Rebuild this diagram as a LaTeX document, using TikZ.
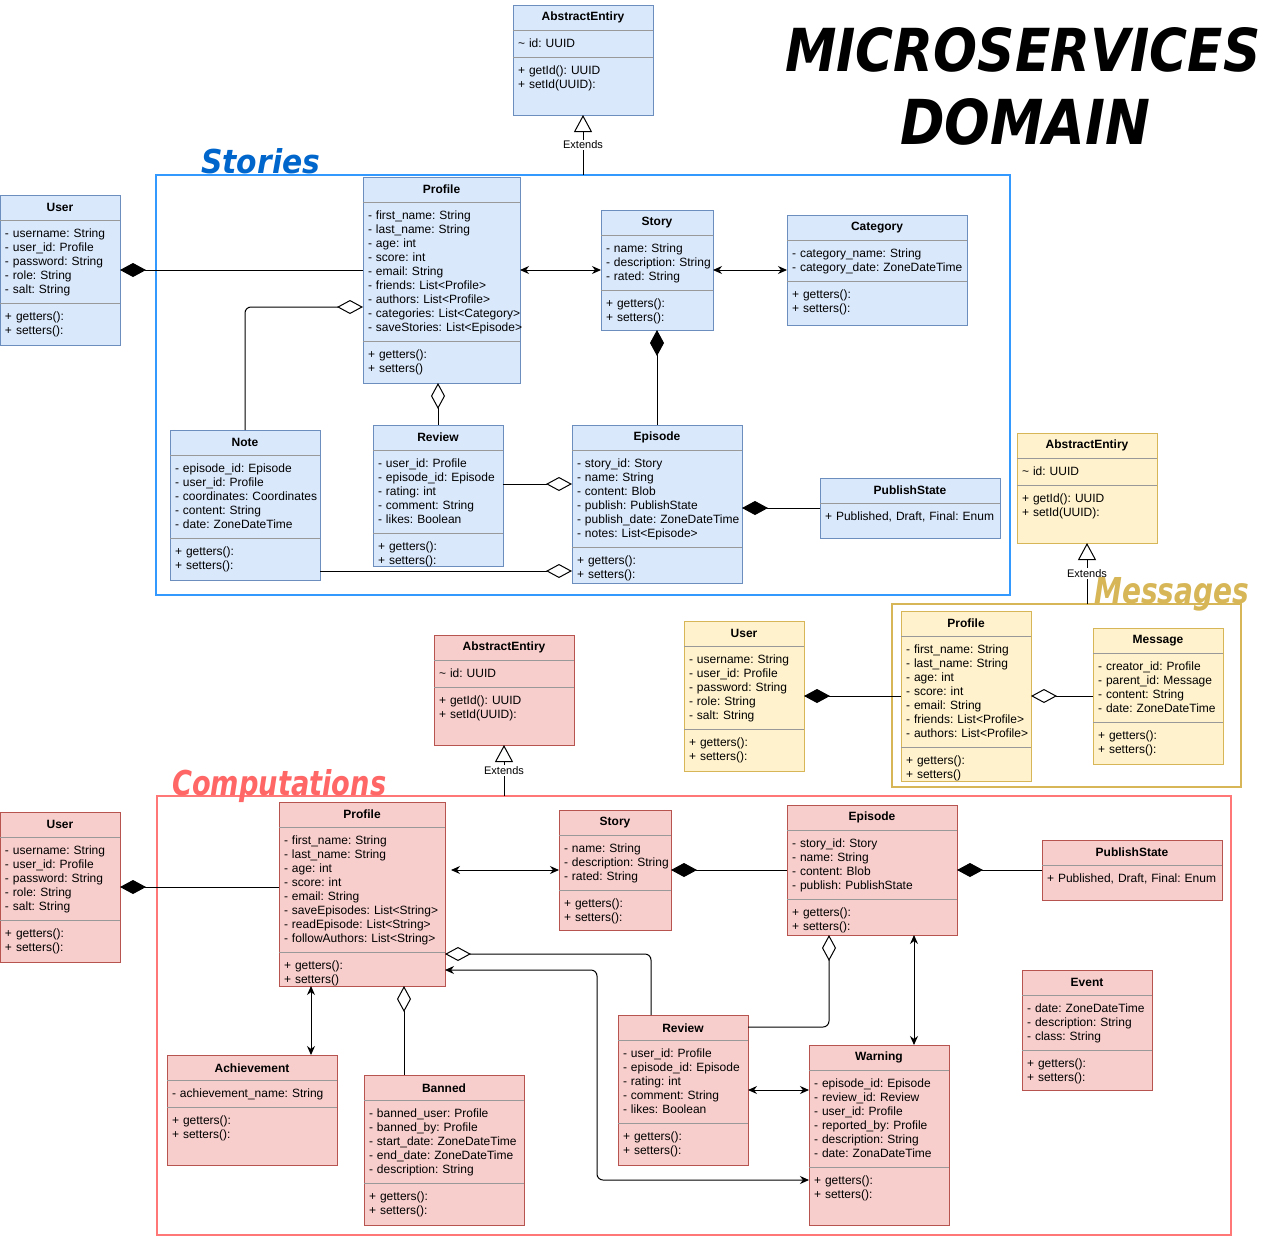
\documentclass[tikz,border=0pt]{standalone}
\usepackage{graphicx}
\usepackage{fontspec}
\setmainfont{Liberation Sans}
\newfontfamily\handfont{DejaVu Sans}
\usetikzlibrary{arrows.meta}

\definecolor{classblue}{HTML}{DAE8FC}
\definecolor{lineblue}{HTML}{6C8EBF}
\definecolor{classyellow}{HTML}{FFF2CC}
\definecolor{lineyellow}{HTML}{D6B656}
\definecolor{classred}{HTML}{F8CECC}
\definecolor{linered}{HTML}{B85450}
\definecolor{rulegray}{HTML}{999999}
\definecolor{frameblue}{HTML}{3399FF}
\definecolor{labelblue}{HTML}{0066CC}
\definecolor{framered}{HTML}{FF7777}
\definecolor{labelred}{HTML}{FF6666}
\definecolor{labelyellow}{HTML}{D6B656}

\newcommand{\ustrut}{\rule[-3pt]{0pt}{14pt}}
% class box: name, colour style, top left, width, height, title, fields, methods
\newcommand{\umlclass}[8]{%
  \node[#2, minimum width=#4, minimum height=#5, anchor=north west] (#1) at (#3) {};
  \node[classname, anchor=north] (#1-name) at (#1.north) {#6};
  \coordinate (#1-top) at ([yshift=-25pt]#1.north west);
  \draw[classrule] (#1-top) -- (#1-top -| #1.east);
  \node[classfield, anchor=north west] (#1-fields) at (#1-top) {\noindent\ustrut#7\ustrut};
  \def\umlmethods{#8}%
  \ifx\umlmethods\empty\else
    \draw[classrule] (#1-fields.south west) -- (#1-fields.south west -| #1.east);
    \node[classfield, anchor=north west] (#1-methods) at (#1-fields.south west) {\noindent\ustrut#8\ustrut};
  \fi
}

\tikzset{
  classbox/.style={draw, line width=1pt, outer sep=0pt, inner sep=0pt},
  blueclass/.style={classbox, fill=classblue, draw=lineblue},
  yellowclass/.style={classbox, fill=classyellow, draw=lineyellow},
  redclass/.style={classbox, fill=classred, draw=linered},
  classname/.style={font=\bfseries\fontsize{12}{14}\selectfont, minimum height=25pt, inner sep=0pt},
  classfield/.style={font=\fontsize{12}{14}\selectfont\frenchspacing, text width=320pt, align=left,
    inner xsep=5pt, inner ysep=6.5pt, outer sep=0pt},
  classrule/.style={draw=rulegray, line width=1pt},
  group/.style={draw, line width=2pt, outer sep=0pt, inner sep=0pt, anchor=north west},
  grouplabel/.style={font=\handfont\bfseries\itshape, inner sep=0pt, anchor=base west},
  link/.style={line width=1pt},
  compose/.style={link, {Diamond[length=26pt,width=14pt]}-},
  aggreg/.style={link, {Diamond[open,length=26pt,width=14pt]}-},
  biarrow/.style={link, {Stealth[length=9pt,width=8pt]}-{Stealth[length=9pt,width=8pt]}},
  extends/.style={link, -{Triangle[open,length=17pt,width=18pt]}},
  extlabel/.style={fill=white, font=\fontsize{11}{13}\selectfont, inner sep=1pt},
}

\begin{document}
\begin{tikzpicture}[x=1pt, y=-1pt]
    \useasboundingbox (0,0) rectangle (1272,1237);

    % Title
    \node[grouplabel] (title1) at (785,71) {\resizebox{475pt}{44pt}{MICROSERVICES}};
    \node[grouplabel] (title2) at (900,144) {\resizebox{250pt}{46pt}{DOMAIN}};

    % Stories
    \node[group, draw=frameblue, minimum width=854, minimum height=420] (stories) at (156,175) {};
    \node[grouplabel, text=labelblue] (storiesTitle) at (201,173) {\resizebox{119pt}{25pt}{Stories}};
    \umlclass{sAbstract}{blueclass}{513,5}{140}{110}{AbstractEntiry}{\textasciitilde\ id: UUID}{+ getId(): UUID\\+ setId(UUID):}
    \umlclass{sUser}{blueclass}{0,195}{120}{150}{User}{- username: String\\- user\_id: Profile\\- password: String\\- role: String\\- salt: String}{+ getters():\\+ setters():}
    \umlclass{sProfile}{blueclass}{363,177}{157}{206}{Profile}{- first\_name: String\\- last\_name: String\\- age: int\\- score: int\\- email: String\\- friends: List<Profile>\\- authors: List<Profile>\\- categories: List<Category>\\- saveStories: List<Episode>}{+ getters():\\+ setters()}
    \umlclass{sStory}{blueclass}{601,210}{112}{120}{Story}{- name: String\\- description: String\\- rated: String}{+ getters():\\+ setters():}
    \umlclass{sCategory}{blueclass}{787,215}{180}{110}{Category}{- category\_name: String\\- category\_date: ZoneDateTime}{+ getters():\\+ setters():}
    \umlclass{sNote}{blueclass}{170,430}{150}{150}{Note}{- episode\_id: Episode\\- user\_id: Profile\\- coordinates: Coordinates\\- content: String\\- date: ZoneDateTime}{+ getters():\\+ setters():}
    \umlclass{sReview}{blueclass}{373,425}{130}{141}{Review}{- user\_id: Profile\\- episode\_id: Episode\\- rating: int\\- comment: String\\- likes: Boolean}{+ getters():\\+ setters():}
    \umlclass{sEpisode}{blueclass}{572,425}{170}{158}{Episode}{- story\_id: Story\\- name: String\\- content: Blob\\- publish: PublishState\\- publish\_date: ZoneDateTime\\- notes: List<Episode>}{+ getters():\\+ setters():}
    \umlclass{sPublish}{blueclass}{820,478}{180}{60}{PublishState}{+ Published, Draft, Final: Enum}{}

    \draw[compose] (sUser.east) -- (sUser.east -| sProfile.west);
    \draw[biarrow] (sStory.west -| sProfile.east) -- (sStory.west);
    \draw[biarrow] (sStory.east) -- (sCategory.west);
    \draw[compose] (sStory.south) -- (sEpisode.north);
    \draw[aggreg, rounded corners=6pt] (sProfile.west |- 0,307) -| (sNote.north);
    \draw[aggreg] (sProfile.south -| sReview.north) -- (sReview.north);
    \draw[aggreg] (sEpisode.west |- 0,484) -- (sReview.east |- 0,484);
    \draw[aggreg] (sEpisode.west |- 0,571) -- (sNote.east |- 0,571);
    \draw[compose] (sPublish.west -| sEpisode.east) -- (sPublish.west);
    \draw[extends] (sAbstract.south |- stories.north) -- node[extlabel] {Extends} (sAbstract.south);

    % Messages
    \node[group, draw=lineyellow, minimum width=349, minimum height=183] (messages) at (892,604) {};
    \umlclass{mAbstract}{yellowclass}{1017,433}{140}{110}{AbstractEntiry}{\textasciitilde\ id: UUID}{+ getId(): UUID\\+ setId(UUID):}
    \umlclass{mUser}{yellowclass}{684,621}{120}{150}{User}{- username: String\\- user\_id: Profile\\- password: String\\- role: String\\- salt: String}{+ getters():\\+ setters():}
    \umlclass{mProfile}{yellowclass}{901,611}{130}{170}{Profile}{- first\_name: String\\- last\_name: String\\- age: int\\- score: int\\- email: String\\- friends: List<Profile>\\- authors: List<Profile>}{+ getters():\\+ setters()}
    \umlclass{mMessage}{yellowclass}{1093,628}{130}{136}{Message}{- creator\_id: Profile\\- parent\_id: Message\\- content: String\\- date: ZoneDateTime}{+ getters():\\+ setters():}

    \draw[compose] (mUser.east) -- (mUser.east -| mProfile.west);
    \draw[aggreg] (mMessage.west -| mProfile.east) -- (mMessage.west);
    \draw[extends] (mAbstract.south |- messages.north) -- node[extlabel] {Extends} (mAbstract.south);
    \node[grouplabel, text=labelyellow] (messagesTitle) at (1094,603) {\resizebox{155pt}{26pt}{Messages}};

    % Computations
    \node[group, draw=framered, minimum width=1074, minimum height=439] (computations) at (157,796) {};
    \node[grouplabel, text=labelred] (computationsTitle) at (172,795) {\resizebox{214pt}{26pt}{Computations}};
    \umlclass{cAbstract}{redclass}{434,635}{140}{110}{AbstractEntiry}{\textasciitilde\ id: UUID}{+ getId(): UUID\\+ setId(UUID):}
    \umlclass{cUser}{redclass}{0,812}{120}{150}{User}{- username: String\\- user\_id: Profile\\- password: String\\- role: String\\- salt: String}{+ getters():\\+ setters():}
    \umlclass{cProfile}{redclass}{279,802}{166}{184}{Profile}{- first\_name: String\\- last\_name: String\\- age: int\\- score: int\\- email: String\\- saveEpisodes: List<String>\\- readEpisode: List<String>\\- followAuthors: List<String>}{+ getters():\\+ setters()}
    \umlclass{cStory}{redclass}{559,810}{112}{120}{Story}{- name: String\\- description: String\\- rated: String}{+ getters():\\+ setters():}
    \umlclass{cEpisode}{redclass}{787,805}{170}{130}{Episode}{- story\_id: Story\\- name: String\\- content: Blob\\- publish: PublishState}{+ getters():\\+ setters():}
    \umlclass{cPublish}{redclass}{1042,840}{180}{60}{PublishState}{+ Published, Draft, Final: Enum}{}
    \umlclass{cEvent}{redclass}{1022,970}{130}{120}{Event}{- date: ZoneDateTime\\- description: String\\- class: String}{+ getters():\\+ setters():}
    \umlclass{cAchievement}{redclass}{167,1055}{170}{110}{Achievement}{- achievement\_name: String}{+ getters():\\+ setters():}
    \umlclass{cBanned}{redclass}{364,1075}{160}{150}{Banned}{- banned\_user: Profile\\- banned\_by: Profile\\- start\_date: ZoneDateTime\\- end\_date: ZoneDateTime\\- description: String}{+ getters():\\+ setters():}
    \umlclass{cReview}{redclass}{618,1015}{130}{150}{Review}{- user\_id: Profile\\- episode\_id: Episode\\- rating: int\\- comment: String\\- likes: Boolean}{+ getters():\\+ setters():}
    \umlclass{cWarning}{redclass}{809,1045}{140}{180}{Warning}{- episode\_id: Episode\\- review\_id: Review\\- user\_id: Profile\\- reported\_by: Profile\\- description: String\\- date: ZonaDateTime}{+ getters():\\+ setters():}

    \draw[compose] (cUser.east) -- (cUser.east -| cProfile.west);
    \draw[biarrow, shorten <=6pt] (cStory.west -| cProfile.east) -- (cStory.west);
    \draw[compose] (cStory.east) -- (cEpisode.west);
    \draw[compose] (cEpisode.east) -- (cPublish.west);
    \draw[biarrow] (311,0 |- cProfile.south) -- (311,0 |- cAchievement.north);
    \draw[aggreg] (404,0 |- cProfile.south) -- (404,0 |- cBanned.north);
    \draw[aggreg, rounded corners=6pt] (cProfile.east |- 0,954) -| (651,0 |- cReview.north);
    \draw[biarrow, rounded corners=6pt] (cProfile.east |- 0,970) -| (597,1180) -- (cWarning.west |- 0,1180);
    \draw[aggreg, rounded corners=6pt] (829,0 |- cEpisode.south) |- (cReview.east |- 0,1027);
    \draw[biarrow] (914,0 |- cEpisode.south) -- (914,0 |- cWarning.north);
    \draw[biarrow] (cReview.east |- 0,1090) -- (cWarning.west |- 0,1090);
    \draw[extends] (cAbstract.south |- computations.north) -- node[extlabel] {Extends} (cAbstract.south);
\end{tikzpicture}
\end{document}
